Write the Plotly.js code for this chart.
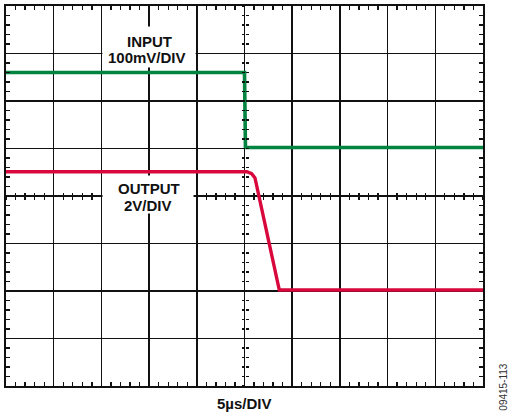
<!DOCTYPE html>
<html>
<head>
<meta charset="utf-8">
<script src="https://cdn.plot.ly/plotly-3.0.1.min.js"></script>
<style>html,body{margin:0;padding:0;background:#fff;}#chart{width:510px;height:417px;}</style>
</head>
<body>
<div id="chart"></div>
<script>
// Scope trace values, in divisions (x: 0..10, y: -4..4)
const inputX = [0, 5.0, 5.02, 10];
const inputY = [2.60, 2.60, 1.02, 1.02];
const outputX = [0, 5.05, 5.15, 5.22, 5.73, 10];
const outputY = [0.51, 0.51, 0.47, 0.38, -1.98, -1.98];
const inputLabel = ['INPUT', '100mV/DIV'];
const outputLabel = ['OUTPUT', '2V/DIV'];
const xTitle = '5µs/DIV';
const figId = '09415-113';

const FONT = 'Liberation Sans, Arial, sans-serif';
const green = '#00843F';
const red = '#D9083C';

const traces = [
  {x: inputX, y: inputY, mode: 'lines', line: {color: green, width: 3.6}, hoverinfo: 'skip', showlegend: false},
  {x: outputX, y: outputY, mode: 'lines', line: {color: red, width: 3.4}, hoverinfo: 'skip', showlegend: false},
  // dummy traces so the center crosshair axes get drawn
  {x: [null], y: [null], xaxis: 'x2', yaxis: 'y', hoverinfo: 'skip', showlegend: false},
  {x: [null], y: [null], xaxis: 'x3', yaxis: 'y', hoverinfo: 'skip', showlegend: false},
  {x: [null], y: [null], xaxis: 'x', yaxis: 'y2', hoverinfo: 'skip', showlegend: false},
  {x: [null], y: [null], xaxis: 'x', yaxis: 'y3', hoverinfo: 'skip', showlegend: false}
];

const baseAxis = {
  showgrid: true, gridcolor: '#111', gridwidth: 1.5, dtick: 1, tick0: 0,
  zeroline: false, showticklabels: false, ticks: '',
  showline: true, linecolor: '#111', linewidth: 2, mirror: 'allticks',
  minor: {dtick: 0.2, tick0: 0, ticks: 'inside', ticklen: 4, tickwidth: 1.3, tickcolor: '#111', showgrid: false},
  fixedrange: true
};
function centerAxis(overlay, ticksDir, range) {
  return {
    overlaying: overlay, anchor: 'free', position: 0.5, range: range,
    showgrid: false, zeroline: false, showline: false, showticklabels: false,
    ticks: ticksDir, dtick: 0.2, tick0: 0, ticklen: 3, tickwidth: 1.3, tickcolor: '#111',
    fixedrange: true
  };
}

const labelFont = {family: FONT, size: 15, color: '#111'};

const layout = {
  width: 510, height: 417,
  margin: {l: 6, r: 27, t: 6, b: 31},
  paper_bgcolor: '#fff', plot_bgcolor: '#fff',
  xaxis: Object.assign({range: [0, 10]}, baseAxis),
  yaxis: Object.assign({range: [-4, 4]}, baseAxis),
  xaxis2: Object.assign(centerAxis('x', 'inside', [0, 10]), {side: 'bottom'}),
  xaxis3: Object.assign(centerAxis('x', 'outside', [0, 10]), {side: 'bottom'}),
  yaxis2: Object.assign(centerAxis('y', 'inside', [-4, 4]), {side: 'left'}),
  yaxis3: Object.assign(centerAxis('y', 'outside', [-4, 4]), {side: 'left'}),
  annotations: [
    // white label boxes (cover grid and center ticks, like the scope screenshot)
    {text: ' ', x: 3.0, y: 3.14, xref: 'x', yref: 'y', showarrow: false, width: 92, height: 40, bgcolor: '#fff', borderpad: 0, font: labelFont},
    {text: ' ', x: 2.97, y: 0.03, xref: 'x', yref: 'y', showarrow: false, width: 90, height: 37, bgcolor: '#fff', borderpad: 0, font: labelFont},
    {text: '<b>' + inputLabel[0] + '</b>', x: 3.0, y: 3.25, xref: 'x', yref: 'y', showarrow: false, font: labelFont},
    {text: '<b>' + inputLabel[1] + '</b>', x: 2.96, y: 2.92, xref: 'x', yref: 'y', showarrow: false, font: labelFont},
    {text: '<b>' + outputLabel[0] + '</b>', x: 2.99, y: 0.15, xref: 'x', yref: 'y', showarrow: false, font: labelFont},
    {text: '<b>' + outputLabel[1] + '</b>', x: 2.98, y: -0.19, xref: 'x', yref: 'y', showarrow: false, font: labelFont},
    {text: '<b>' + xTitle + '</b>', x: 5.0, y: -0.047, xref: 'x', yref: 'paper', yanchor: 'middle', showarrow: false, font: labelFont},
    {text: figId, x: 1.043, y: -0.003, xref: 'paper', yref: 'paper', xanchor: 'center', yanchor: 'middle', textangle: -90, showarrow: false, font: {family: FONT, size: 10, color: '#333'}}
  ]
};

Plotly.newPlot('chart', traces, layout, {staticPlot: true, displayModeBar: false});
</script>
</body>
</html>
